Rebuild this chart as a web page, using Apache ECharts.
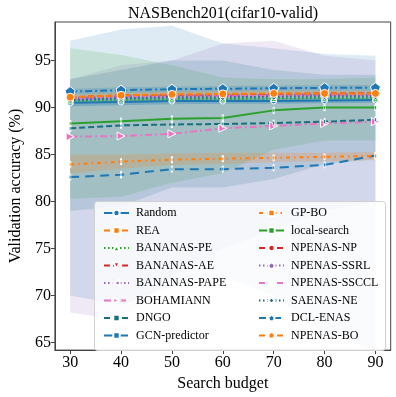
<!DOCTYPE html>
<html>
<head>
<meta charset="utf-8">
<script src="https://cdn.jsdelivr.net/npm/echarts@6/dist/echarts.min.js"></script>
<style>
  html, body { margin: 0; padding: 0; background: #fff; }
  #main { width: 396px; height: 397px; }
</style>
</head>
<body>
<div id="main"></div>
<script>
// search budgets and axis ticks
var budgets = [30, 40, 50, 60, 70, 80, 90]
var xTicks = [30, 40, 50, 60, 70, 80, 90]
var yTicks = [65, 70, 75, 80, 85, 90, 95]

// mean validation accuracy per method
var random = [90.5, 90.6, 90.7, 90.7, 90.7, 90.75, 90.8]
var rea = [91.0, 91.2, 91.3, 91.35, 91.4, 91.45, 91.45]
var bananasPE = [90.7, 90.8, 90.9, 90.9, 90.95, 91.0, 91.0]
var bananasAE = [91.0, 91.2, 91.3, 91.35, 91.4, 91.45, 91.5]
var bananasPAPE = [90.9, 91.1, 91.2, 91.25, 91.3, 91.35, 91.4]
var bohamiann = [86.9, 86.97, 87.2, 87.8, 88.05, 88.3, 88.5]
var dngo = [87.8, 88.1, 88.2, 88.25, 88.35, 88.5, 88.7]
var gcnPredictor = [82.6, 82.85, 83.45, 83.45, 83.6, 83.9, 84.9]
var gpBo = [83.95, 84.25, 84.45, 84.55, 84.65, 84.75, 84.85]
var localSearch = [88.3, 88.55, 88.8, 88.9, 89.7, 90.0, 90.0]
var npenasNP = [91.1, 91.3, 91.35, 91.4, 91.45, 91.5, 91.5]
var npenasSSRL = [91.0, 91.2, 91.3, 91.3, 91.35, 91.4, 91.4]
var npenasSSCCL = [90.9, 91.1, 91.15, 91.2, 91.25, 91.3, 91.3]
var saenasNE = [90.8, 91.0, 91.1, 91.1, 91.15, 91.2, 91.2]
var dclEnas = [91.7, 91.85, 91.95, 92.0, 92.05, 92.1, 92.1]
var npenasBO = [91.1, 91.3, 91.4, 91.45, 91.5, 91.5, 91.5]

// shaded spread (lower / upper) per method
var gcnLow = [70.0, 69.0, 71.0, 72.0, 70.0, 66.0, 64.2]
var gcnHigh = [97.1, 98.3, 98.7, 96.8, 96.3, 95.7, 95.5]
var papeLow = [68.2, 67.4, 72.0, 75.0, 77.0, 79.0, 80.0]
var papeHigh = [93.0, 94.5, 95.0, 96.8, 97.1, 95.5, 95.0]
var lsLow = [80.3, 80.5, 82.0, 83.0, 85.5, 86.5, 86.5]
var lsHigh = [96.3, 95.6, 94.5, 93.2, 93.0, 93.0, 93.2]
var dngoLow = [79.0, 79.5, 81.5, 81.5, 82.4, 84.0, 84.5]
var dngoHigh = [93.0, 94.0, 95.0, 95.0, 94.0, 93.5, 93.5]
var gpboLow = [83.0, 83.5, 83.9, 84.0, 84.2, 84.3, 84.4]
var gpboHigh = [85.0, 85.0, 85.1, 85.2, 85.2, 85.2, 85.3]
var randomLow = [90.15, 90.25, 90.35, 90.4, 90.4, 90.45, 90.5]
var randomHigh = [90.9, 91.0, 91.05, 91.05, 91.05, 91.1, 91.1]
var dclLow = [91.4, 91.55, 91.65, 91.7, 91.75, 91.8, 91.8]
var dclHigh = [92.0, 92.15, 92.25, 92.3, 92.35, 92.4, 92.4]
var npboLow = [90.8, 91.0, 91.1, 91.15, 91.2, 91.2, 91.2]
var npboHigh = [91.4, 91.6, 91.7, 91.75, 91.8, 91.8, 91.8]

var FONT = 'Liberation Serif'
var BLUE = '#1f77b4'
var ORANGE = '#ff7f0e'
var GREEN = '#2ca02c'
var RED = '#d62728'
var PURPLE = '#9467bd'
var PINK = '#e377c2'
var TEAL = '#1a6e80'

var TRI_DOWN = 'path://M0,0 L10,0 L5,10 Z'
var TRI_LEFT = 'path://M10,0 L10,10 L0,5 Z'
var TRI_RIGHT = 'path://M0,0 L0,10 L10,5 Z'
var PENTAGON = 'path://M5,0 L10,3.8 L8.1,10 L1.9,10 L0,3.8 Z'
var PLUS = 'path://M4,0 H6 V4 H10 V6 H6 V10 H4 V6 H0 V4 H4 Z'
var THIN_DIAMOND = 'path://M5,0 L8,5 L5,10 L2,5 Z'

var SOLID = 'solid'
var DASHED = [6, 3]
var DOTTED = [1.5, 2.5]
var DASHDOT = [7, 3, 2, 3]
var LONGDASH = [9, 6]
var DASHDOTDOT = [4, 4, 1.5, 4]

var methods = [
  { name: 'Random', data: random, color: BLUE, dash: SOLID, symbol: 'circle', size: 6 },
  { name: 'REA', data: rea, color: ORANGE, dash: DASHED, symbol: 'rect', size: 6 },
  { name: 'BANANAS-PE', data: bananasPE, color: GREEN, dash: DOTTED, symbol: 'triangle', size: 6 },
  { name: 'BANANAS-AE', data: bananasAE, color: RED, dash: DASHED, symbol: TRI_DOWN, size: 6 },
  { name: 'BANANAS-PAPE', data: bananasPAPE, color: PURPLE, dash: DOTTED, symbol: TRI_LEFT, size: 6 },
  { name: 'BOHAMIANN', data: bohamiann, color: PINK, dash: DASHDOT, symbol: TRI_RIGHT, size: 8 },
  { name: 'DNGO', data: dngo, color: TEAL, dash: DASHED, symbol: 'rect', size: [1.5, 5] },
  { name: 'GCN-predictor', data: gcnPredictor, color: BLUE, dash: LONGDASH, symbol: 'rect', size: [1.5, 5] },
  { name: 'GP-BO', data: gpBo, color: ORANGE, dash: DASHDOTDOT, symbol: 'rect', size: [1.5, 5] },
  { name: 'local-search', data: localSearch, color: GREEN, dash: SOLID, symbol: 'rect', size: [1.5, 5] },
  { name: 'NPENAS-NP', data: npenasNP, color: RED, dash: DASHED, symbol: 'circle', size: 6 },
  { name: 'NPENAS-SSRL', data: npenasSSRL, color: PURPLE, dash: DOTTED, symbol: PENTAGON, size: 6 },
  { name: 'NPENAS-SSCCL', data: npenasSSCCL, color: PINK, dash: DASHED, symbol: PLUS, size: 6 },
  { name: 'SAENAS-NE', data: saenasNE, color: TEAL, dash: DOTTED, symbol: THIN_DIAMOND, size: 7 },
  { name: 'DCL-ENAS', data: dclEnas, color: BLUE, dash: DASHDOT, symbol: PENTAGON, size: 10 },
  { name: 'NPENAS-BO', data: npenasBO, color: ORANGE, dash: DASHED, symbol: 'circle', size: 8 }
]

var bands = [
  { low: gcnLow, high: gcnHigh, color: BLUE, alpha: 0.15 },
  { low: papeLow, high: papeHigh, color: PURPLE, alpha: 0.15 },
  { low: lsLow, high: lsHigh, color: GREEN, alpha: 0.15 },
  { low: dngoLow, high: dngoHigh, color: TEAL, alpha: 0.15 },
  { low: gpboLow, high: gpboHigh, color: ORANGE, alpha: 0.2 },
  { low: randomLow, high: randomHigh, color: BLUE, alpha: 0.3 },
  { low: dclLow, high: dclHigh, color: BLUE, alpha: 0.2 },
  { low: npboLow, high: npboHigh, color: ORANGE, alpha: 0.2 }
]

function pairs(ys) {
  return budgets.map(function(x, i) { return [x, ys[i]] })
}

var series = []
bands.forEach(function(b, k) {
  series.push({
    name: 'band-' + k,
    type: 'custom',
    silent: true,
    z: 1,
    data: budgets.map(function(x, i) { return [x, b.low[i], b.high[i]] }),
    encode: { x: 0, y: [1, 2] },
    renderItem: function(params, api) {
      if (params.dataIndex !== 0) return
      var upper = budgets.map(function(x, i) { return api.coord([x, b.high[i]]) })
      var lower = budgets.map(function(x, i) { return api.coord([x, b.low[i]]) }).reverse()
      return {
        type: 'polygon',
        shape: { points: upper.concat(lower) },
        style: { fill: b.color, opacity: b.alpha }
      }
    }
  })
})
methods.forEach(function(m) {
  series.push({
    name: m.name,
    type: 'line',
    data: pairs(m.data),
    symbol: m.symbol,
    symbolSize: m.size,
    showAllSymbol: true,
    color: m.color,
    lineStyle: { color: m.color, width: 2, type: m.dash },
    itemStyle: { color: m.color, borderColor: '#fff', borderWidth: 1 },
    z: 3
  })
})

var names = methods.map(function(m) { return m.name })
var legendText = { fontFamily: FONT, fontSize: 12, color: '#000', padding: [0, 0, 0, 2] }

const myChart = echarts.init(document.getElementById('main'))
var option = {
  backgroundColor: '#fff',
  animation: false,
  title: {
    text: 'NASBench201(cifar10-valid)',
    left: 218,
    textAlign: 'center',
    top: 1,
    textStyle: { fontFamily: FONT, fontSize: 16, fontWeight: 'normal', color: '#000' }
  },
  grid: {
    left: 44.7,
    right: 5.3,
    top: 22,
    bottom: 44,
    show: true,
    borderColor: '#444',
    borderWidth: 1,
    backgroundColor: 'transparent'
  },
  graphic: [{
    type: 'rect',
    left: 94,
    top: 201,
    shape: { width: 291, height: 149, r: 3 },
    style: { fill: 'rgba(255,255,255,0.8)', stroke: '#d0d0d0', lineWidth: 1 },
    z: 10
  }],
  legend: [{
    data: names.slice(0, 8),
    orient: 'vertical',
    left: 98,
    top: 202,
    itemWidth: 25,
    itemHeight: 8,
    itemGap: 5.5,
    textStyle: legendText,
    z: 12
  }, {
    data: names.slice(8),
    orient: 'vertical',
    left: 253,
    top: 202,
    itemWidth: 25,
    itemHeight: 8,
    itemGap: 5.5,
    textStyle: legendText,
    z: 12
  }],
  xAxis: {
    type: 'value',
    min: 27,
    max: 93,
    name: 'Search budget',
    nameLocation: 'middle',
    nameGap: 22,
    nameTextStyle: { fontFamily: FONT, fontSize: 16, color: '#000' },
    splitLine: { show: false },
    axisLine: { lineStyle: { color: '#444' } },
    axisTick: { length: 4, lineStyle: { color: '#444' }, customValues: xTicks },
    axisLabel: { fontFamily: FONT, fontSize: 16, color: '#000', margin: 5, customValues: xTicks }
  },
  yAxis: {
    type: 'value',
    min: 64.2,
    max: 99.1,
    name: 'Validation accuracy (%)',
    nameLocation: 'middle',
    nameGap: 24,
    nameTextStyle: { fontFamily: FONT, fontSize: 16, color: '#000' },
    splitLine: { show: false },
    axisLine: { show: true, lineStyle: { color: '#444' } },
    axisTick: { show: true, length: 4, lineStyle: { color: '#444' }, customValues: yTicks },
    axisLabel: { fontFamily: FONT, fontSize: 16, color: '#000', margin: 4, customValues: yTicks }
  },
  series: series
}
myChart.setOption(option)
window.addEventListener('resize', () => { myChart.resize() })
</script>
</body>
</html>
